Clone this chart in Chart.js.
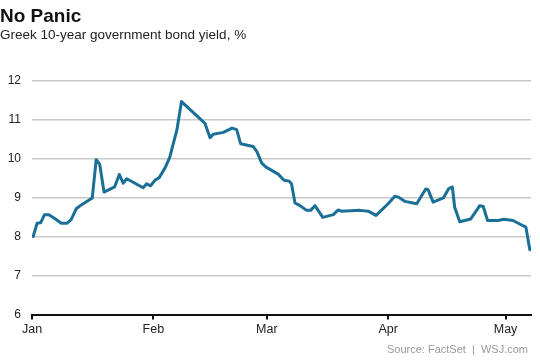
<!DOCTYPE html>
<html>
<head>
<meta charset="utf-8">
<script src="https://cdn.jsdelivr.net/npm/chart.js@4.4.1/dist/chart.umd.min.js"></script>
<style>
    html, body { margin: 0; padding: 0; background: #fff; }
    #marco { position: relative; width: 540px; height: 364px; overflow: hidden; font-family: "Liberation Sans", Arial, sans-serif; }
    #marco canvas { position: absolute; left: 0; top: 0; }
    #titulo { position: absolute; left: 0; top: 6px; font-size: 19px; line-height: 19px; font-weight: bold; color: #111; }
    #subtitulo { position: absolute; left: 0; top: 27.5px; font-size: 13.5px; line-height: 13.5px; color: #222; }
    #fuente { position: absolute; right: 12px; top: 344px; font-size: 11px; line-height: 11px; color: #999; white-space: pre; }
</style>
</head>
<body>
<div id="marco">
    <canvas id="grafico" width="540" height="364"></canvas>
    <div id="titulo">No Panic</div>
    <div id="subtitulo">Greek 10-year government bond yield, %</div>
    <div id="fuente">Source: FactSet  |  WSJ.com</div>
</div>
<script>
// dia del año (0 = 1 de enero) y rendimiento del bono a 10 años
const dias = [
    0.3, 1.3, 2.2, 3.2, 4.3, 6, 7.5, 9, 10, 11.3, 12.6, 15.4, 16.4, 17.3, 18.4, 21.1,
    22.3, 23.3, 24.2, 28.4, 29.3, 30.3, 31.4, 32.5, 34, 35.2, 36.3, 37, 38.2,
    44.2, 45.5, 46.3, 48.9, 51.1, 52.3, 53.3, 56.5, 57.5, 58.7, 59.8, 62.9,
    64.4, 65.7, 66.3, 67.2, 68.5, 70.2, 71.2, 72.3, 74.3, 77, 78.2, 79.1, 83.8,
    85.9, 87.9, 91, 92.7, 93.6, 95.3, 98.3, 100.6, 101.2, 102.5, 105.1, 106.5,
    107.4, 108, 109.3, 112.1, 113.6, 114.4, 115.3, 116.4, 119.1, 120.6, 122.9,
    124.6, 126.2, 127.2
];
const rendimiento = [
    8.0, 8.34, 8.35, 8.56, 8.56, 8.45, 8.34, 8.34, 8.43, 8.71, 8.81, 8.99, 9.97, 9.85, 9.14, 9.27,
    9.59, 9.37, 9.48, 9.25, 9.35, 9.30, 9.44, 9.51, 9.76, 10.03, 10.46, 10.72, 11.46,
    10.9, 10.53, 10.62, 10.67, 10.78, 10.74, 10.38, 10.31, 10.17, 9.88, 9.78, 9.60,
    9.44, 9.42, 9.35, 8.86, 8.79, 8.67, 8.67, 8.79, 8.49, 8.56, 8.68, 8.65, 8.67,
    8.65, 8.54, 8.84, 9.03, 9.01, 8.90, 8.84, 9.22, 9.20, 8.88, 8.99, 9.23,
    9.27, 8.75, 8.38, 8.45, 8.67, 8.79, 8.77, 8.41, 8.41, 8.44, 8.41,
    8.32, 8.24, 7.66
];
const meses = ["Jan", "Feb", "Mar", "Apr", "May"];
const inicioMes = [0, 31, 60, 91, 121];
const ticksY = [6, 7, 8, 9, 10, 11, 12];

const puntos = dias.map((d, i) => ({ x: d, y: rendimiento[i] }));

new Chart(document.getElementById("grafico").getContext("2d"), {
    type: "line",
    data: {
        datasets: [{
            data: puntos,
            borderColor: "#1a6f96",
            borderWidth: 3,
            pointRadius: 0,
            tension: 0,
            borderJoinStyle: "round",
            borderCapStyle: "round"
        }]
    },
    options: {
        responsive: false,
        animation: false,
        layout: { padding: { top: 80.5, right: 9, bottom: 0, left: 0 } },
        plugins: {
            legend: { display: false },
            tooltip: { enabled: false }
        },
        scales: {
            x: {
                type: "linear",
                min: 0,
                max: 127.5,
                afterBuildTicks: s => { s.ticks = inicioMes.map(v => ({ value: v })); },
                afterFit: s => { s.height = 49.5; },
                ticks: {
                    callback: v => meses[inicioMes.indexOf(v)],
                    autoSkip: false,
                    maxRotation: 0,
                    padding: 3,
                    color: "#222",
                    font: { family: "Liberation Sans", size: 12.5 }
                },
                grid: { drawOnChartArea: false, drawTicks: true, tickLength: 5, color: "#111", lineWidth: 2 },
                border: { display: true, color: "#111", width: 2 }
            },
            y: {
                min: 6,
                max: 12,
                afterBuildTicks: s => { s.ticks = ticksY.map(v => ({ value: v })); },
                afterFit: s => { s.width = 32; },
                ticks: {
                    padding: 11,
                    color: "#222",
                    font: { family: "Liberation Sans", size: 12 }
                },
                grid: {
                    color: c => c.tick && c.tick.value === 6 ? "rgba(0,0,0,0)" : "#c8c8c8",
                    lineWidth: 1.5,
                    drawTicks: false
                },
                border: { display: false }
            }
        }
    }
});
</script>
</body>
</html>
